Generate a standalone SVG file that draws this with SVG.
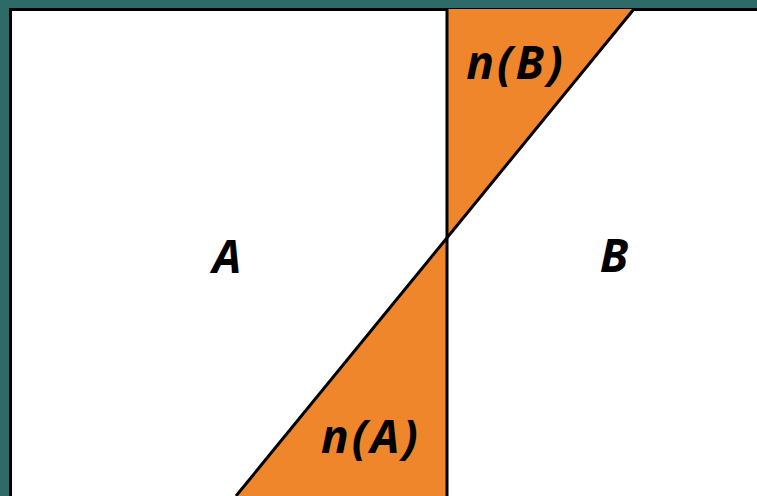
<svg xmlns="http://www.w3.org/2000/svg" width="757" height="496" viewBox="0 0 757 496">
<style>
.lbl{font-family:"Open Sans","Liberation Sans",sans-serif;font-weight:bold;font-style:italic;font-size:46px;fill:#000;text-anchor:middle}
.w{letter-spacing:3px}
.edge{stroke:#000;stroke-width:3;fill:none}
</style>
<rect width="757" height="496" fill="#2e6b68"/>
<g id="frame">
<rect x="10.5" y="9.5" width="760" height="500" fill="#ffffff" stroke="#000" stroke-width="3"/>
</g>
<g id="nB">
<polygon points="447,9 634,9 447,237" fill="#f0862c"/>
</g>
<g id="nA">
<polygon points="447,237 447,496 236,496" fill="#f0862c"/>
</g>
<g id="connectors">
<line class="edge" x1="447" y1="9" x2="447" y2="496"/>
<line class="edge" x1="634" y1="9" x2="236" y2="496"/>
</g>
<g id="A"><text class="lbl" x="227" y="273">A</text></g>
<g id="B"><text class="lbl" x="614" y="272">B</text></g>
<g id="labelnB"><text class="lbl w" x="516" y="79">n(B)</text></g>
<g id="labelnA"><text class="lbl w" x="371" y="453">n(A)</text></g>
</svg>
